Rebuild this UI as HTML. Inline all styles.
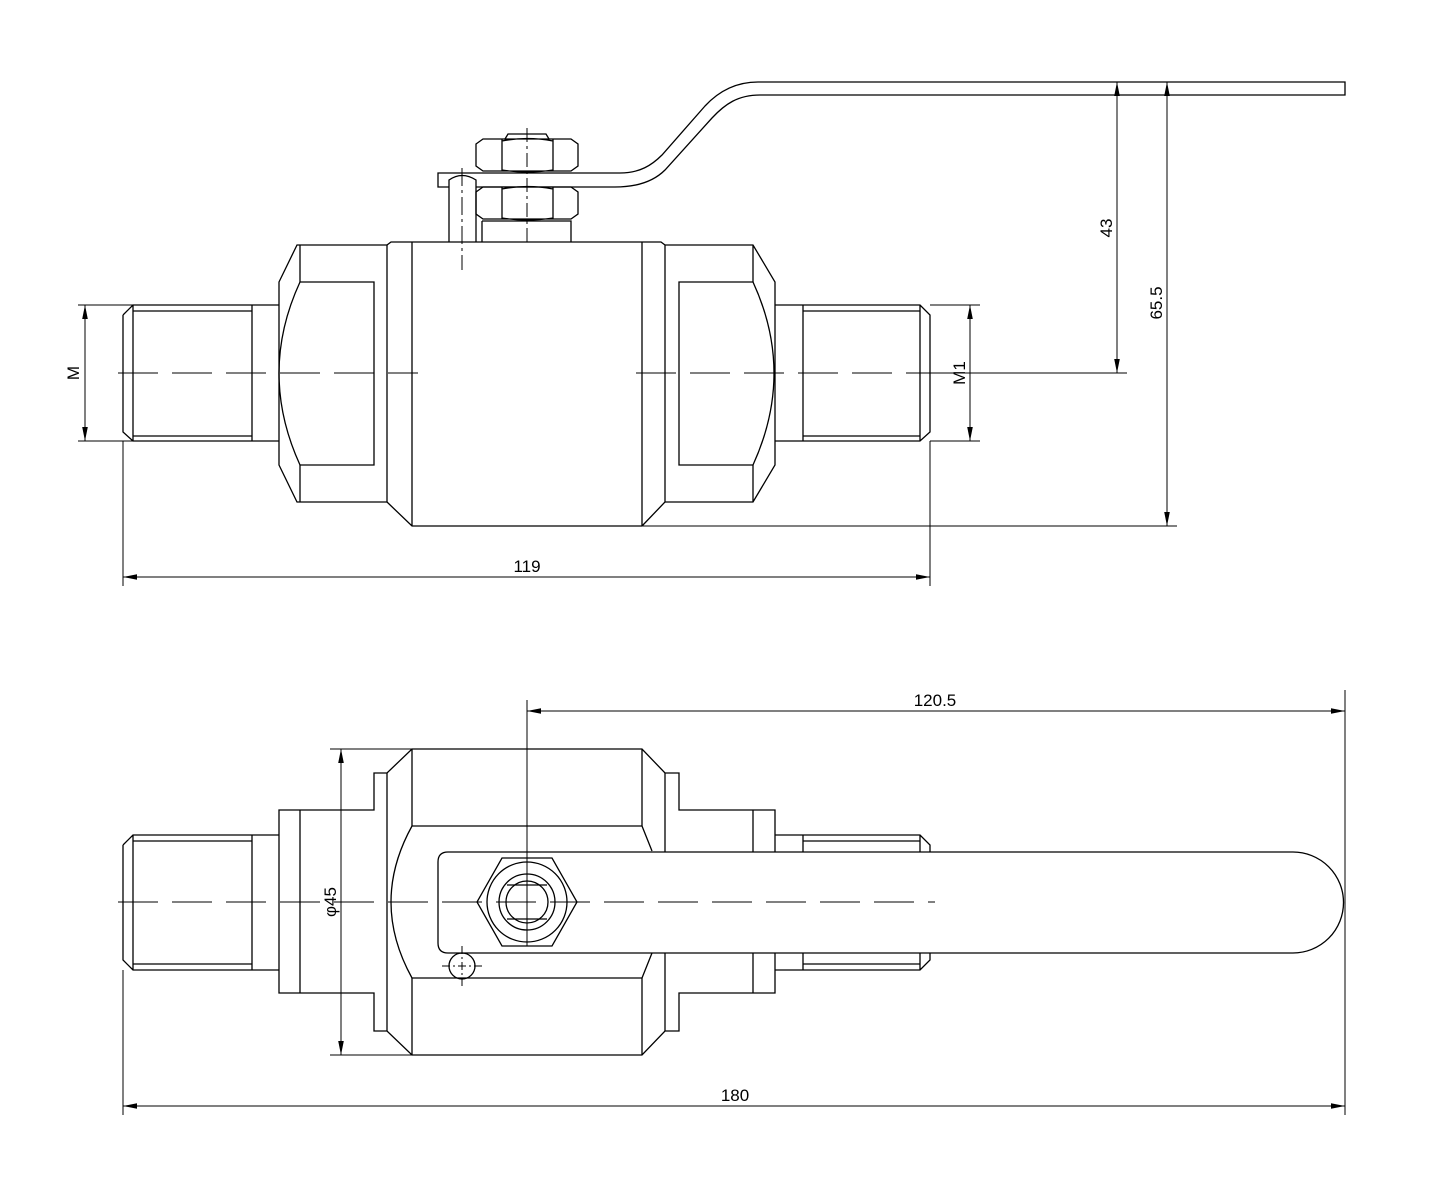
<!DOCTYPE html>
<html><head><meta charset="utf-8"><style>html,body{margin:0;padding:0;background:#fff}svg{display:block}text{font-family:"Liberation Sans",sans-serif;font-size:17px;fill:#000}</style></head>
<body>
<svg width="1436" height="1200" viewBox="0 0 1436 1200" xmlns="http://www.w3.org/2000/svg">
<defs>
<marker id="a" viewBox="0 0 10 10" refX="10" refY="5" markerWidth="14" markerHeight="14" markerUnits="userSpaceOnUse" orient="auto-start-reverse"><path d="M0,3 L10,5 L0,7 z" fill="#000"/></marker>
</defs>
<g fill="none" stroke="#000" stroke-width="1.3">
<!-- TOP VIEW -->
<path d="M123,315 L133,305 L279,305 M123,315 L123,432 L133,441 L279,441 M133,305 L133,441 M133,311 L252,311 M133,436 L252,436 M252,305 L252,441"/>
<path d="M279,282 L297,245 L387,245 L387,502 L297,502 L279,465 Z M300,245 L300,282 M300,465 L300,502"/>
<path d="M300,282 L374,282 L374,465 L300,465"/>
<path d="M300,282 Q258,373 300,465"/>
<path d="M387,245 L391,242 L642,242 M387,502 L412,526 L642,526 M412,242 L412,526 M642,242 L642,526"/>
<path d="M642,242 L661,242 L665,245 M665,245 L665,502 L642,526"/>
<path d="M665,245 L753,245 L775,282 L775,465 L753,502 L665,502 M753,245 L753,282 M753,465 L753,502"/>
<path d="M753,282 L679,282 L679,465 L753,465"/>
<path d="M753,282 Q795,373 753,465"/>
<path d="M775,305 L920,305 L930,315 L930,432 L920,441 L775,441 M920,305 L920,441 M803,305 L803,441 M803,311 L920,311 M803,436 L920,436"/>
<path d="M482,221 L571,221 L571,242 M482,221 L482,242"/>
<path d="M476,192 L483,187 L571,187 L578,192 L578,214 L571,219 L483,219 L476,214 Z M502,187 L502,219 M553,187 L553,219 M502,189 Q527,184 553,189 M502,218 Q527,222 553,218"/>
<path d="M476,144 L483,139 L571,139 L578,144 L578,166 L571,171 L483,171 L476,166 Z M502,139 L502,171 M553,139 L553,171 M502,141 Q527,136 553,141 M502,170 Q527,174 553,170"/>
<path d="M505,139 L508,134 L546,134 L549,139"/>
<path d="M578,173 L438,173 L438,187 L449,187 M476,187 L578,187"/>
<path d="M449,242 L449,180 Q462,171 476,180 L476,242"/>
<path d="M578,173 L620,173 C640,173 652,165 662,155 L705,106 C718,92 735,82 758,82 L1345,82 L1345,95 L760,95 C738,95 725,104 712,118 L665,170 C655,180 640,187 615,187 L578,187"/>
</g>
<g fill="none" stroke="#000" stroke-width="1">
<path d="M527,128 L527,246" stroke-dasharray="14,4,3,4"/>
<path d="M462,168 L462,270" stroke-dasharray="18,4,3,4"/>
<path d="M118,373 L418,373 M636,373 L935,373" stroke-dasharray="40,14"/>
<path d="M78,305 L133,305 M78,441 L133,441"/>
<path d="M85,305 L85,441" marker-start="url(#a)" marker-end="url(#a)"/>
<path d="M930,305 L980,305 M930,441 L980,441"/>
<path d="M970,305 L970,441" marker-start="url(#a)" marker-end="url(#a)"/>
<path d="M930,373 L1127,373 M1345,82 L1177,82 M642,526 L1177,526"/>
<path d="M1117,82 L1117,373" marker-start="url(#a)" marker-end="url(#a)"/>
<path d="M1167,82 L1167,526" marker-start="url(#a)" marker-end="url(#a)"/>
<path d="M123,441 L123,586 M930,441 L930,586"/>
<path d="M123,577 L930,577" marker-start="url(#a)" marker-end="url(#a)"/>
</g>
<g fill="none" stroke="#000" stroke-width="1.3">
<!-- BOTTOM VIEW -->
<path d="M123,845 L133,835 L279,835 M123,845 L123,960 L133,970 L279,970 M133,835 L133,970 M133,841 L252,841 M133,964 L252,964 M252,835 L252,970"/>
<path d="M279,810 L374,810 L374,773 L387,773 L412,749 L642,749 L665,773 L679,773 L679,810 L775,810 L775,993 L679,993 L679,1031 L665,1031 L642,1055 L412,1055 L387,1031 L374,1031 L374,993 L279,993 Z"/>
<path d="M300,810 L300,993 M387,773 L387,1031 M412,749 L412,826 M412,978 L412,1055 M642,749 L642,826 M642,978 L642,1055 M665,773 L665,1031 M753,810 L753,993"/>
<path d="M412,826 L642,826 M412,978 L642,978 M412,826 Q370,902 412,978 M642,826 L652,851 M642,978 L652,953"/>
<path d="M775,835 L920,835 L930,845 L930,960 L920,970 L775,970 M803,835 L803,970 M920,835 L920,970 M803,841 L920,841 M803,964 L920,964"/>
<path fill="#fff" d="M448,852 L1293,852 A50.5,50.5 0 0 1 1293,953 L448,953 Q438,953 438,943 L438,862 Q438,852 448,852 Z"/>
<path d="M502,858 L552,858 L577,902 L552,946 L502,946 L477,902 Z"/>
<circle cx="527" cy="902" r="40"/>
<circle cx="527" cy="902" r="28"/>
<circle cx="527" cy="902" r="21"/>
<path d="M507,885 L547,885 M507,919 L547,919"/>
<circle cx="462" cy="966" r="13"/>
</g>
<g fill="none" stroke="#000" stroke-width="1">
<path d="M442,966 L482,966 M462,946 L462,986" stroke-dasharray="8,3,2,3"/>
<path d="M118,902 L935,902" stroke-dasharray="40,14"/>
<path d="M527,700 L527,946"/>
<path d="M519,902 L535,902 M527,894 L527,910"/>
<path d="M330,749 L412,749 M330,1055 L412,1055"/>
<path d="M341,749 L341,1055" marker-start="url(#a)" marker-end="url(#a)"/>
<path d="M1345,690 L1345,1115 M123,970 L123,1115"/>
<path d="M527,711 L1345,711" marker-start="url(#a)" marker-end="url(#a)"/>
<path d="M123,1106 L1345,1106" marker-start="url(#a)" marker-end="url(#a)"/>
</g>
<g>
<text x="527" y="572" text-anchor="middle">119</text>
<text x="935" y="706" text-anchor="middle">120.5</text>
<text x="735" y="1101" text-anchor="middle">180</text>
<text transform="translate(1112,228) rotate(-90)" text-anchor="middle">43</text>
<text transform="translate(1162,303) rotate(-90)" text-anchor="middle">65.5</text>
<text transform="translate(79,373) rotate(-90)" text-anchor="middle">M</text>
<text transform="translate(965,373) rotate(-90)" text-anchor="middle">M1</text>
<text transform="translate(336,902) rotate(-90)" text-anchor="middle">φ45</text>
</g>
</svg>
</body></html>
